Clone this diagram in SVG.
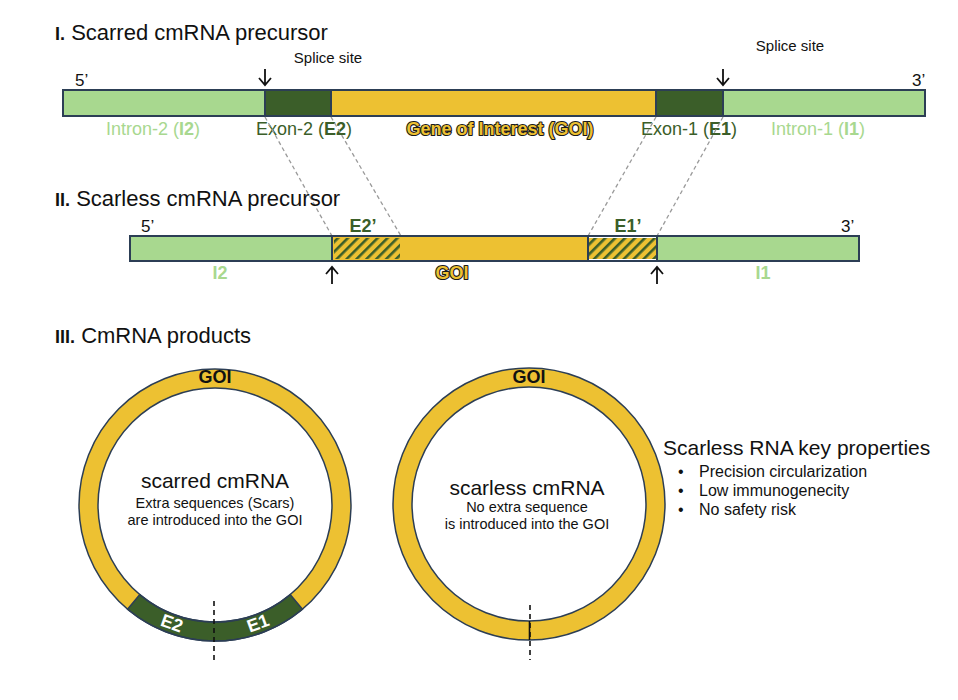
<svg xmlns="http://www.w3.org/2000/svg" width="958" height="700" viewBox="0 0 958 700">
<defs>
<style>
text{font-family:"Liberation Sans",Arial,sans-serif;fill:#111}
.title{font-size:22px}
.num{font-size:18px;font-weight:bold}
.small{font-size:15px}
.end{font-size:17px}
.lbl{font-size:18px;text-anchor:middle}
.lg{fill:#A8D88F}
.dg{fill:#3B5E29}
.goi{fill:#EDC132;stroke:#1a1a1a;stroke-width:2.2;paint-order:stroke;font-weight:bold;stroke-linejoin:round}
.seg{stroke:#2C3E55;stroke-width:2}
.ring{fill:#fff;stroke:#EDC132;stroke-width:19}
.edge{fill:none;stroke:#2C3E55;stroke-width:1.5}
.conn{stroke:#9A9A9A;stroke-width:1.3;stroke-dasharray:4 3;fill:none}
.arr{fill:none;stroke:#111;stroke-width:1.8}
.cut{stroke:#111;stroke-width:1.6;stroke-dasharray:5 4}
.bul{font-size:16px}
</style>
<pattern id="hatch" width="7" height="7" patternUnits="userSpaceOnUse" patternTransform="rotate(45)">
<rect width="7" height="7" fill="#EDC132"/>
<rect width="2.6" height="7" fill="#3B5E29"/>
</pattern>
</defs>
<rect width="958" height="700" fill="#fff"/>

<!-- Section I -->
<g id="title1"><text x="55" y="40" class="title"><tspan class="num">I.</tspan> Scarred cmRNA precursor</text></g>
<g id="bar1">
<rect x="63" y="90" width="202" height="26" fill="#A8D88F" class="seg"/>
<rect x="265" y="90" width="66" height="26" fill="#3B5E29" class="seg"/>
<rect x="331" y="90" width="325" height="26" fill="#EDC132" class="seg"/>
<rect x="656" y="90" width="67" height="26" fill="#3B5E29" class="seg"/>
<rect x="723" y="90" width="202" height="26" fill="#A8D88F" class="seg"/>
<text x="75" y="86" class="end">5’</text>
<text x="912" y="86" class="end">3’</text>
<text x="153" y="135" class="lbl lg">Intron-2 (<tspan font-weight="bold">I2</tspan>)</text>
<text x="304" y="135" class="lbl dg">Exon-2 (<tspan font-weight="bold">E2</tspan>)</text>
<text x="500" y="135" class="lbl goi">Gene of Interest (GOI)</text>
<text x="689" y="135" class="lbl dg">Exon-1 (<tspan font-weight="bold">E1</tspan>)</text>
<text x="818" y="135" class="lbl lg">Intron-1 (<tspan font-weight="bold">I1</tspan>)</text>
</g>
<g id="splice1">
<text x="328" y="63" class="small" text-anchor="middle">Splice site</text>
<path d="M265,69 V85 M259,78 L265,85 L271,78" class="arr"/>
</g>
<g id="splice2">
<text x="790" y="51" class="small" text-anchor="middle">Splice site</text>
<path d="M723,69 V85 M717,78 L723,85 L729,78" class="arr"/>
</g>

<!-- connectors -->
<g id="connectors">
<line x1="265" y1="117" x2="332" y2="236" class="conn"/>
<line x1="331" y1="117" x2="401" y2="236" class="conn"/>
<line x1="656" y1="117" x2="588" y2="236" class="conn"/>
<line x1="723" y1="117" x2="657" y2="236" class="conn"/>
</g>

<!-- Section II -->
<g id="title2"><text x="55" y="206" class="title"><tspan class="num">II.</tspan> Scarless cmRNA precursor</text></g>
<g id="bar2">
<rect x="130" y="236" width="202" height="25" fill="#A8D88F" class="seg"/>
<rect x="332" y="236" width="256" height="25" fill="#EDC132" class="seg"/>
<rect x="334" y="238" width="66" height="21" fill="url(#hatch)"/>
<rect x="589" y="238" width="67" height="21" fill="url(#hatch)"/>
<rect x="332" y="236" width="325" height="25" fill="none" class="seg"/>
<rect x="657" y="236" width="202" height="25" fill="#A8D88F" class="seg"/>
<text x="141" y="232" class="end">5’</text>
<text x="841" y="232" class="end">3’</text>
<text x="363" y="232" class="lbl dg" font-weight="bold">E2’</text>
<text x="628" y="232" class="lbl dg" font-weight="bold">E1’</text>
<text x="220" y="279" class="lbl lg" font-weight="bold">I2</text>
<text x="452" y="279" class="lbl goi">GOI</text>
<text x="763" y="279" class="lbl lg" font-weight="bold">I1</text>
<path d="M332,284 V267 M326,274 L332,267 L338,274" class="arr"/>
<path d="M657,284 V267 M651,274 L657,267 L663,274" class="arr"/>
</g>

<!-- Section III -->
<g id="title3"><text x="55" y="343" class="title"><tspan class="num">III.</tspan> CmRNA products</text></g>

<g id="scarred">
<circle cx="215" cy="505" r="126.5" class="ring"/>
<path d="M302.4,609.2 A136,136 0 0 1 127.6,609.2 L139.8,594.6 A117,117 0 0 0 290.2,594.6 Z" fill="#3B5E29" stroke="#2C3E55" stroke-width="1.5"/>
<circle cx="215" cy="505" r="136" class="edge"/>
<circle cx="215" cy="505" r="117" class="edge"/>
<text x="215" y="383" class="lbl" font-weight="bold">GOI</text>
<text x="172" y="623" class="lbl" font-weight="bold" fill="#fff" style="fill:#fff" dy="0.35em" transform="rotate(20 172 623)">E2</text>
<text x="258" y="623" class="lbl" font-weight="bold" style="fill:#fff" dy="0.35em" transform="rotate(-20 258 623)">E1</text>
<line x1="214" y1="601" x2="214" y2="663" class="cut"/>
<text x="215" y="488" font-size="21" text-anchor="middle">scarred cmRNA</text>
<text x="215" y="508" font-size="14.5" text-anchor="middle">Extra sequences (Scars)</text>
<text x="215" y="525" font-size="14.5" text-anchor="middle">are introduced into the GOI</text>
</g>

<g id="scarless">
<circle cx="529" cy="504" r="126.5" class="ring"/>
<circle cx="529" cy="504" r="136" class="edge"/>
<circle cx="529" cy="504" r="117" class="edge"/>
<text x="529" y="383" class="lbl" font-weight="bold">GOI</text>
<line x1="530" y1="605" x2="530" y2="660" class="cut"/>
<line x1="529.5" y1="621" x2="529.5" y2="640" stroke="#111" stroke-width="1.6"/>
<text x="527" y="495" font-size="21" text-anchor="middle">scarless cmRNA</text>
<text x="527" y="512" font-size="14.5" text-anchor="middle">No extra sequence</text>
<text x="527" y="529" font-size="14.5" text-anchor="middle">is introduced into the GOI</text>
</g>

<g id="properties">
<text x="663" y="455" font-size="21">Scarless RNA key properties</text>
<text x="678" y="477" class="bul">•</text><text x="699" y="477" class="bul">Precision circularization</text>
<text x="678" y="496" class="bul">•</text><text x="699" y="496" class="bul">Low immunogenecity</text>
<text x="678" y="515" class="bul">•</text><text x="699" y="515" class="bul">No safety risk</text>
</g>
</svg>
